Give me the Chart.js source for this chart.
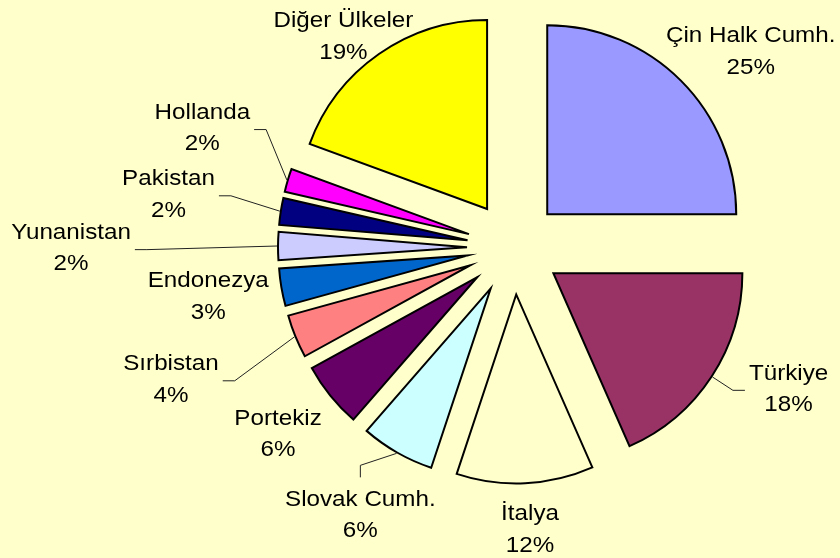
<!DOCTYPE html>
<html lang="tr">
<head>
<meta charset="utf-8">
<title>Ülkelere göre pay</title>
<script src="https://cdn.jsdelivr.net/npm/chart.js"></script>
<style>
  html, body { margin: 0; padding: 0; background: #FFFFCC; }
  #wrap { width: 840px; height: 558px; }
</style>
</head>
<body>
<div id="wrap"><canvas id="pie-canvas" width="840" height="558"></canvas></div>
<script>
// --- Veriler ---
const countries = ['Çin Halk Cumh.', 'Türkiye', 'İtalya', 'Slovak Cumh.', 'Portekiz', 'Sırbistan',
                   'Endonezya', 'Yunanistan', 'Pakistan', 'Hollanda', 'Diğer Ülkeler'];
const shares = [25.0, 18.4, 11.7, 6.3, 5.6, 3.7, 3.2, 2.4, 2.3, 2.0, 19.4];

// --- Görünüm ---
const sliceColors = ['#9999FF', '#993366', '#FFFFCC', '#CCFFFF', '#660066', '#FF8080',
                     '#0066CC', '#CCCCFF', '#000080', '#FF00FF', '#FFFF00'];
const EXPLODE = 47;          // dilimlerin merkezden uzaklığı (px)
const LABEL_GAP = 62;        // etiketin dilim kenarından varsayılan uzaklığı
const FONT_PX = 22;
const FONT_SX = 1.1;         // yazı biraz yatay geniş
const LINE_H = 31.5;
// elle kaydırılmış etiketler (Excel'deki gibi) ve bağlantı çizgileri
const labelNudge = [[26, 13], [25, -23], [2, -17], [-6, 7], [-4, -2], [-67, 18],
                    [-12, -3], [-145, 1], [-51, -9], [-26, -36], [0, 32]];
const leaderLines = [false, true, false, true, false, true, false, true, true, true, false];

const total = shares.reduce((a, b) => a + b, 0);

// arka plan
const backgroundPlugin = {
    id: 'bg',
    beforeDraw(chart) {
        const c = chart.ctx;
        c.save();
        c.fillStyle = '#FFFFCC';
        c.fillRect(0, 0, chart.width, chart.height);
        c.restore();
    }
};

// patlatılmış dilimler: her dilimi kendi açıortayı boyunca kaydırıp çiz
const explodePlugin = {
    id: 'explode',
    beforeDatasetDraw(chart, args) {
        const c = chart.ctx;
        args.meta.data.forEach(arc => {
            const mid = (arc.startAngle + arc.endAngle) / 2;
            c.save();
            c.translate(Math.cos(mid) * EXPLODE, Math.sin(mid) * EXPLODE);
            arc.draw(c, chart.chartArea);
            c.restore();
        });
        return false;
    }
};

// etiketler + bağlantı çizgileri
const labelPlugin = {
    id: 'outerLabels',
    afterDatasetsDraw(chart) {
        const c = chart.ctx;
        const arcs = chart.getDatasetMeta(0).data;
        c.save();
        c.font = FONT_PX + 'px "Liberation Sans", Arial, sans-serif';
        c.textAlign = 'center';
        c.textBaseline = 'alphabetic';

        arcs.forEach((arc, i) => {
            const mid = (arc.startAngle + arc.endAngle) / 2;
            const cos = Math.cos(mid), sin = Math.sin(mid);
            const R = arc.outerRadius;
            const dist = R + EXPLODE + LABEL_GAP;
            const lx = arc.x + dist * cos + labelNudge[i][0];
            const ly = arc.y + dist * sin + labelNudge[i][1];
            const lines = [countries[i], Math.round(shares[i] / total * 100) + '%'];

            if (leaderLines[i]) {
                const sx = arc.x + (R + EXPLODE + 1) * cos;
                const sy = arc.y + (R + EXPLODE + 1) * sin;
                const w = Math.max(...lines.map(t => c.measureText(t).width)) * FONT_SX;
                const dx = lx - sx, dy = ly - sy;
                let end, elbow;
                if (Math.abs(dy) > Math.abs(dx)) {
                    const ey = dy > 0 ? ly - 36 : ly + 36;
                    end = [lx, ey];
                    elbow = [lx, ey + (dy > 0 ? -12 : 12)];
                } else {
                    const ex = dx > 0 ? lx - w / 2 - 4 : lx + w / 2 + 4;
                    end = [ex, ly + 3];
                    elbow = [ex + (dx > 0 ? -12 : 12), ly + 3];
                }
                c.beginPath();
                c.moveTo(sx, sy);
                c.lineTo(elbow[0], elbow[1]);
                c.lineTo(end[0], end[1]);
                c.strokeStyle = '#222';
                c.lineWidth = 1;
                c.stroke();
            }

            c.fillStyle = '#000';
            lines.forEach((t, k) => {
                const by = ly - LINE_H / 2 + 8 + k * LINE_H;
                c.save();
                c.scale(FONT_SX, 1);
                c.fillText(t, lx / FONT_SX, by);
                c.restore();
            });
        });
        c.restore();
    }
};

new Chart(document.getElementById('pie-canvas'), {
    type: 'pie',
    data: {
        labels: countries,
        datasets: [{
            data: shares,
            backgroundColor: sliceColors,
            borderColor: '#000',
            borderWidth: 2,
            borderJoinStyle: 'miter',
            radius: 189
        }]
    },
    options: {
        responsive: false,
        animation: false,
        devicePixelRatio: 1,
        events: [],
        layout: { padding: { left: 200, right: 12, top: 5, bottom: 68 } },
        plugins: {
            legend: { display: false },
            tooltip: { enabled: false }
        }
    },
    plugins: [backgroundPlugin, explodePlugin, labelPlugin]
});
</script>
</body>
</html>
